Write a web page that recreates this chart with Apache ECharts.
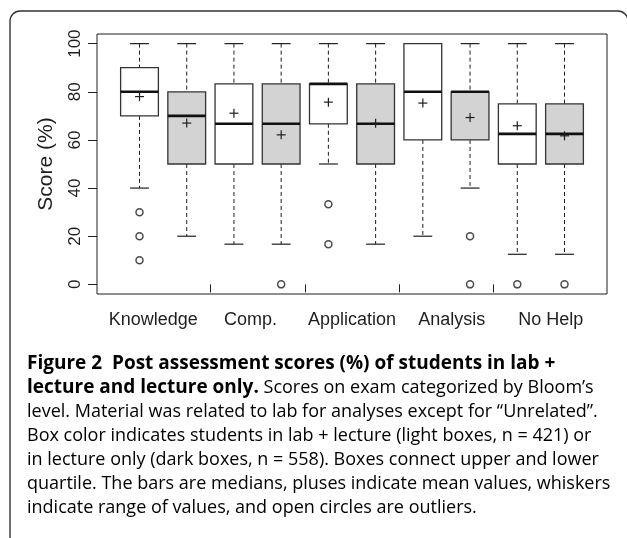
<!DOCTYPE html>
<html>
<head>
<meta charset="utf-8">
<script src="https://cdn.jsdelivr.net/npm/echarts@6/dist/echarts.min.js"></script>
<style>
  html, body { margin: 0; padding: 0; background: #fff; }
  #chart { width: 627px; height: 538px; }
</style>
</head>
<body>
<div id="chart"></div>
<script>
// ---- data ----
const groups = ['Knowledge', 'Comp.', 'Application', 'Analysis', 'No Help'];
const groupLabelPos = [1.29, 3.35, 5.5, 7.61, 9.71];
const groupTickPos = [2.5, 4.5, 6.5, 8.5];
const yTicks = [0, 20, 40, 60, 80, 100];

// lab + lecture (light boxes)
const labLow    = [40, 16.7, 50, 20, 12.5];
const labQ1     = [70, 50, 66.7, 60, 50];
const labMedian = [80, 66.7, 83.3, 80, 62.5];
const labQ3     = [90, 83.3, 83.3, 100, 75];
const labHigh   = [100, 100, 100, 100, 100];
const labMean   = [78, 71.1, 75.7, 75.3, 65.9];
const labOutliers = [[30, 20, 10], [], [33.3, 16.7], [], [0]];

// lecture only (dark boxes)
const lecLow    = [20, 16.7, 16.7, 40, 12.5];
const lecQ1     = [50, 50, 50, 60, 50];
const lecMedian = [70, 66.7, 66.7, 80, 62.5];
const lecQ3     = [80, 83.3, 83.3, 80, 75];
const lecHigh   = [100, 100, 100, 100, 100];
const lecMean   = [67, 62.1, 66.9, 69.3, 61.7];
const lecOutliers = [[], [0], [], [20, 0], [0]];

// ---- build series data ----
function boxData(offset, low, q1, med, q3, high, mean) {
  return groups.map((g, i) => [2 * i + offset, low[i], q1[i], med[i], q3[i], high[i], mean[i]]);
}
function outlierData(offset, outs) {
  const d = [];
  outs.forEach((arr, i) => arr.forEach(v => d.push([2 * i + offset, v])));
  return d;
}
const labBoxes = boxData(1, labLow, labQ1, labMedian, labQ3, labHigh, labMean);
const lecBoxes = boxData(2, lecLow, lecQ1, lecMedian, lecQ3, lecHigh, lecMean);
const outliers = outlierData(1, labOutliers).concat(outlierData(2, lecOutliers));

const INK = '#1e1e1e';

function makeRender(fill) {
  return function (params, api) {
    const x = api.value(0);
    const c = v => api.coord([x, v]);
    const pLow = c(api.value(1)), pQ1 = c(api.value(2)), pMed = c(api.value(3));
    const pQ3 = c(api.value(4)), pHigh = c(api.value(5)), pMean = c(api.value(6));
    const cx = pLow[0];
    const bw = api.size([0.8, 0])[0];
    const cw = bw / 2;
    const dash = { stroke: INK, lineWidth: 1, lineDash: [4, 3] };
    const solid = { stroke: INK, lineWidth: 1.2 };
    const ch = [];
    if (pHigh[1] < pQ3[1]) ch.push({ type: 'line', shape: { x1: cx, y1: pHigh[1], x2: cx, y2: pQ3[1] }, style: dash });
    if (pLow[1] > pQ1[1]) ch.push({ type: 'line', shape: { x1: cx, y1: pQ1[1], x2: cx, y2: pLow[1] }, style: dash });
    ch.push({ type: 'line', shape: { x1: cx - cw / 2, y1: pHigh[1], x2: cx + cw / 2, y2: pHigh[1] }, style: solid });
    ch.push({ type: 'line', shape: { x1: cx - cw / 2, y1: pLow[1], x2: cx + cw / 2, y2: pLow[1] }, style: solid });
    ch.push({ type: 'rect', shape: { x: cx - bw / 2, y: pQ3[1], width: bw, height: pQ1[1] - pQ3[1] },
      style: { fill: fill, stroke: '#333', lineWidth: 1.3 } });
    ch.push({ type: 'line', shape: { x1: cx - bw / 2, y1: pMed[1], x2: cx + bw / 2, y2: pMed[1] },
      style: { stroke: '#111', lineWidth: 2.6 } });
    ch.push({ type: 'line', shape: { x1: cx - 4.5, y1: pMean[1], x2: cx + 4.5, y2: pMean[1] }, style: { stroke: INK, lineWidth: 1.2 } });
    ch.push({ type: 'line', shape: { x1: cx, y1: pMean[1] - 4.5, x2: cx, y2: pMean[1] + 4.5 }, style: { stroke: INK, lineWidth: 1.2 } });
    return { type: 'group', children: ch };
  };
}

const chart = echarts.init(document.getElementById('chart'), null, { renderer: 'canvas' });

const bold = { fontFamily: 'Open Sans', fontSize: 19, fontWeight: 'bold', color: '#1a1a1a' };
const reg = { fontFamily: 'Open Sans', fontSize: 18, color: '#3a3a3a' };
const captionLines = [
  '{b|Figure 2  Post assessment scores (%) of students in lab +}',
  '{b|lecture and lecture only.}{r| Scores on exam categorized by Bloom\u2019s}',
  '{r|level. Material was related to lab for analyses except for \u201cUnrelated\u201d.}',
  '{r|Box color indicates students in lab + lecture (light boxes, n = 421) or}',
  '{r|in lecture only (dark boxes, n = 558). Boxes connect upper and lower}',
  '{r|quartile. The bars are medians, pluses indicate mean values, whiskers}',
  '{r|indicate range of values, and open circles are outliers.}'
];

const graphics = [{
  type: 'rect', shape: { x: 10, y: 11, width: 618, height: 560, r: 10 },
  style: { fill: 'none', stroke: '#333', lineWidth: 1.4 }, z: 10
}];
captionLines.forEach((t, i) => {
  graphics.push({
    type: 'text', x: 27, y: 364 + i * 24,
    style: { text: t, rich: { b: bold, r: reg }, verticalAlign: 'middle', align: 'left' }, z: 10
  });
});

chart.setOption({
  animation: false,
  backgroundColor: '#fff',
  grid: { left: 97, top: 34, right: 20, bottom: 244, show: true, borderColor: INK, borderWidth: 1, backgroundColor: 'transparent' },
  xAxis: {
    type: 'value', min: 0.1, max: 10.9,
    axisLine: { show: false }, splitLine: { show: false },
    axisTick: { show: true, customValues: groupTickPos, length: 8, lineStyle: { color: INK, width: 1 } },
    axisLabel: {
      show: true, customValues: groupLabelPos, margin: 17,
      fontFamily: 'Liberation Sans', fontSize: 18, color: INK,
      formatter: v => { const k = groupLabelPos.findIndex(p => Math.abs(p - v) < 1e-6); return k >= 0 ? groups[k] : ''; }
    }
  },
  yAxis: {
    type: 'value', min: -4, max: 104,
    name: 'Score (%)', nameLocation: 'middle', nameGap: 40, nameRotate: 90,
    nameTextStyle: { fontFamily: 'Liberation Sans', fontSize: 21, color: INK },
    axisLine: { show: false }, splitLine: { show: false },
    axisTick: { show: true, customValues: yTicks, length: 9, lineStyle: { color: INK, width: 1 } },
    axisLabel: { show: true, customValues: yTicks, rotate: 90, margin: 13, fontFamily: 'Liberation Sans', fontSize: 17, color: INK }
  },
  series: [
    { type: 'custom', name: 'Lab + lecture', renderItem: makeRender('#ffffff'), data: labBoxes, encode: { x: 0, y: [1, 2, 3, 4, 5, 6] }, clip: false },
    { type: 'custom', name: 'Lecture only', renderItem: makeRender('#d3d3d3'), data: lecBoxes, encode: { x: 0, y: [1, 2, 3, 4, 5, 6] }, clip: false },
    { type: 'scatter', name: 'Outliers', data: outliers, symbol: 'circle', symbolSize: 7,
      itemStyle: { color: '#fff', borderColor: INK, borderWidth: 1.5 }, z: 5 }
  ],
  graphic: graphics
});
</script>
</body>
</html>
